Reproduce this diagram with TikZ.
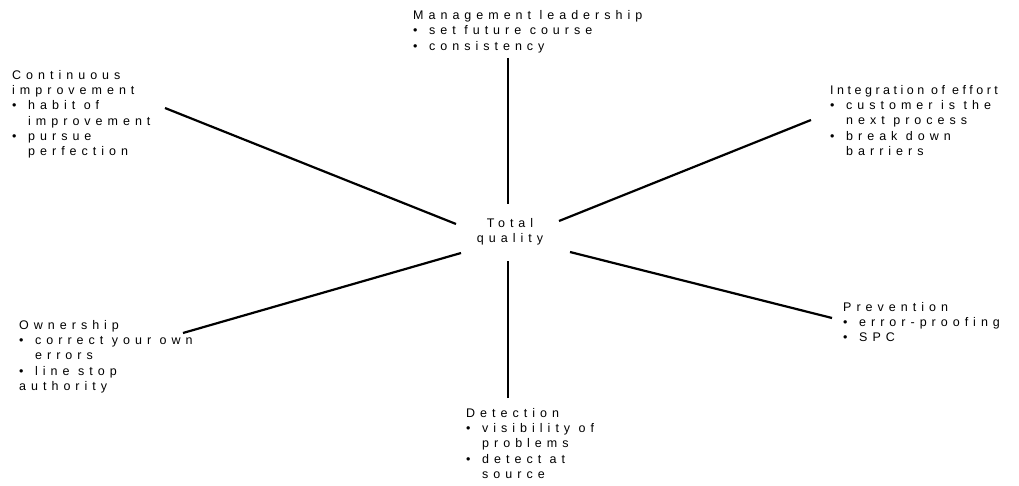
\documentclass[tikz,border=0pt]{standalone}
\usepackage{fontspec}
\setmainfont[LetterSpace=40]{Liberation Sans}
\newcommand\bl{\makebox[16pt][l]{•}}
\newcommand\ind{\hspace*{16pt}}
\begin{document}
\begin{tikzpicture}[x=1pt,y=-1pt,
  lab/.style={anchor=north west, align=left, inner sep=0pt, font=\fontsize{12.5}{15.3}\selectfont},
  spoke/.style={line width=2.2pt}]
\useasboundingbox (0,0) rectangle (1019,486);
\node[lab] (mgmt) at (413,10.3) {Management leadership\\\bl set future course\\\bl consistency};
\node[lab] (cont) at (12,70) {Continuous\\improvement\\\bl habit of\\\ind improvement\\\bl pursue\\\ind perfection};
\node[lab] (integ) at (830,85) {{\addfontfeature{LetterSpace=28}Integration of effort}\\\bl customer is the\\\ind next process\\\bl break down\\\ind barriers};
\node[lab, anchor=north, align=center] (tq) at (510,218) {Total\\quality};
\node[lab] (own) at (19,320) {Ownership\\\bl correct your own\\\ind errors\\\bl line stop\\authority};
\node[lab] (prev) at (843,302) {Prevention\\\bl error-proofing\\\bl SPC};
\node[lab] (det) at (466,408) {Detection\\\bl visibility of\\\ind problems\\\bl detect at\\\ind source};
\coordinate (mA) at (508,58);  \coordinate (mB) at (508,204);
\coordinate (cA) at (165,108); \coordinate (cB) at (456,224);
\coordinate (iA) at (811,120); \coordinate (iB) at (559,221);
\coordinate (oA) at (183,333); \coordinate (oB) at (461,253);
\coordinate (pA) at (832,318); \coordinate (pB) at (570,252);
\coordinate (dA) at (508,398); \coordinate (dB) at (508,261);
\draw[spoke] (mA) -- (mB);
\draw[spoke] (cA) -- (cB);
\draw[spoke] (iA) -- (iB);
\draw[spoke] (oA) -- (oB);
\draw[spoke] (pA) -- (pB);
\draw[spoke] (dA) -- (dB);
\end{tikzpicture}
\end{document}
